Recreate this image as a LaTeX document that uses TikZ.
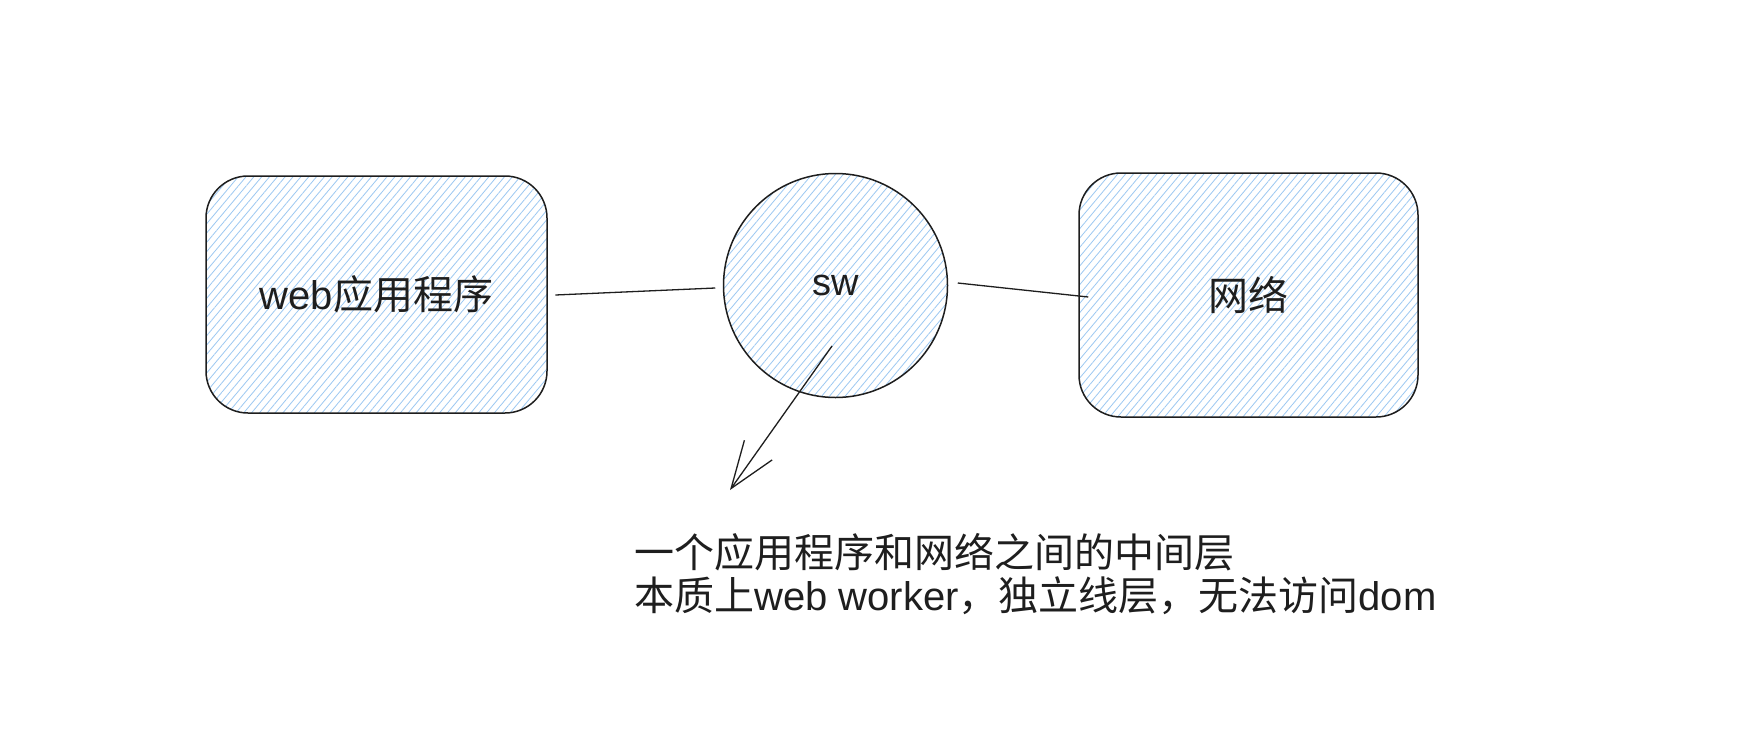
\documentclass[tikz,border=0pt]{standalone}
\usepackage{fontspec}
\setmainfont{Liberation Sans}
\newfontfamily\cjk{Noto Sans CJK SC}
\newcommand\zh[1]{{\cjk #1}}
\usetikzlibrary{patterns.meta,arrows.meta,calc}
\definecolor{hatch}{HTML}{9CC8F2}
\definecolor{ink}{HTML}{1E1E1E}
\tikzset{
  hatched/.style={draw=ink, line width=1.5pt,
    pattern={Lines[angle=50,distance=6pt,line width=0.8pt]}, pattern color=hatch},
  box/.style={hatched, rounded corners=42pt, font=\fontsize{40}{48}\selectfont, text=ink},
  conn/.style={draw=ink, line width=1.3pt},
}
\begin{document}
\begin{tikzpicture}[x=1pt,y=-1pt]
\useasboundingbox (0,0) rectangle (1752,750);
\fill[white] (0,0) rectangle (1752,750);
\node[box, minimum width=341pt, minimum height=237pt] (web) at (376.5,294.5) {web\zh{应用程序}};
\node[hatched, circle, minimum size=224pt, inner sep=0pt, font=\fontsize{38}{46}\selectfont, text=ink] (sw) at (835.5,285.5) {sw};
\node[box, minimum width=339pt, minimum height=244pt] (net) at (1248.5,295) {\zh{网络}};
\node[anchor=west, align=left, text=ink, font=\fontsize{40}{43}\selectfont, inner sep=0pt] (note) at (634,574.5)
  {\zh{一个应用程序和网络之间的中间层}\\\zh{本质上}web worker\zh{，独立线层，无法访问}dom};
\coordinate (swin) at ($(sw.center)+(-3.5,60.5)$);
\coordinate (tip) at (730,490);
\draw[conn] ($(web.east)+(8,0.5)$) -- ($(sw.west)+(-7.5,2.5)$);
\draw[conn] ($(sw.east)+(9.5,-2.5)$) -- ($(net.west)+(10,2)$);
\draw[conn, -{Straight Barb[length=47pt,width=34pt,line width=1.3pt]}] (swin) -- (tip);
\end{tikzpicture}
\end{document}
